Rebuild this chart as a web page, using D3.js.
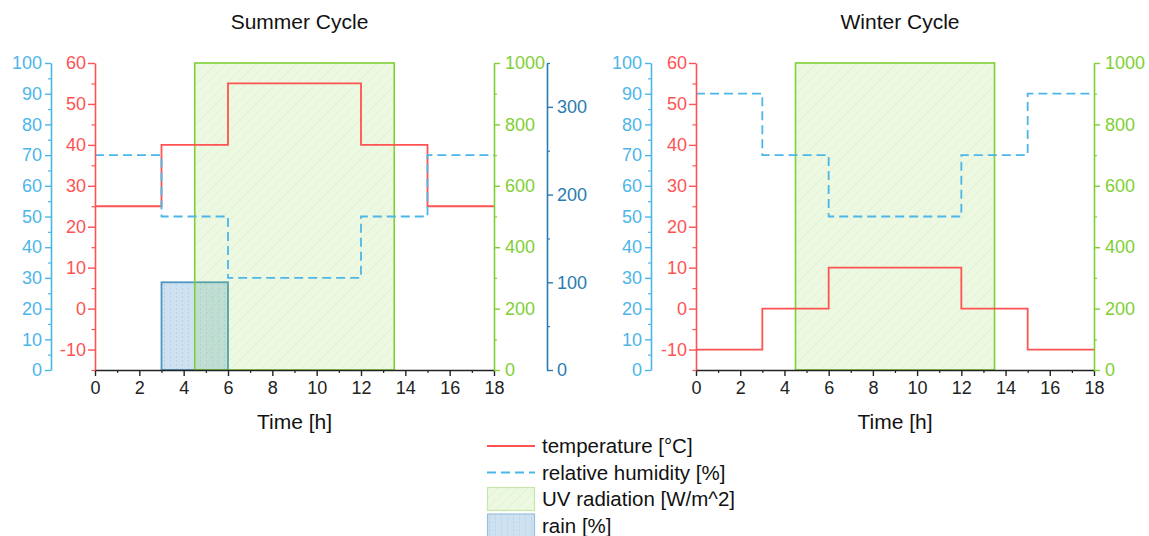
<!DOCTYPE html>
<html>
<head>
<meta charset="utf-8">
<script src="https://cdn.jsdelivr.net/npm/d3@7"></script>
<style>
  html, body { margin: 0; padding: 0; background: #fff; }
  svg { display: block; font-family: "Liberation Sans", Arial, sans-serif; }
</style>
</head>
<body>
<svg id="chart" width="1149" height="536"></svg>
<script>
// ---- data ----
const hourBreaks = [0, 3, 6, 12, 15, 18];
const summerTemperature = [25, 40, 55, 40, 25];
const summerHumidity = [70, 50, 30, 50, 70];
const winterTemperature = [-10, 0, 10, 0, -10];
const winterHumidity = [90, 70, 50, 70, 90];
const uvPeriod = [4.5, 13.5];
const uvIntensity = 1000;
const summerRainPeriod = [3, 6];
const summerRain = 100;

const timeTicks = [0, 2, 4, 6, 8, 10, 12, 14, 16, 18];
const temperatureTicks = [-10, 0, 10, 20, 30, 40, 50, 60];
const humidityTicks = [0, 10, 20, 30, 40, 50, 60, 70, 80, 90, 100];
const uvTicks = [0, 200, 400, 600, 800, 1000];
const rainTicks = [0, 100, 200, 300];
const legendLabels = ["temperature [°C]", "relative humidity [%]", "UV radiation [W/m^2]", "rain [%]"];

// ---- style ----
const C = {
  temp: "#ff5252",
  hum: "#4cb6e9",
  uv: "#7fd034",
  rain: "#2a7bb1",
  rainFill: "#cde1f1",
  rainStroke: "#5096c2",
  axis: "#222"
};
const TOP = 63, BOTTOM = 370;
const plain = d => String(d).replace("\u2212", "-");

const svg = d3.select("#chart");
const defs = svg.append("defs");

// diagonal hatch for the UV window
const hatch = defs.append("pattern")
  .attr("id", "uvHatch").attr("patternUnits", "userSpaceOnUse")
  .attr("width", 10).attr("height", 10);
hatch.append("rect").attr("width", 10).attr("height", 10).attr("fill", C.uv).attr("fill-opacity", 0.15);
hatch.append("path").attr("d", "M-1,11 L11,-1 M-1,1 L1,-1 M9,11 L11,9")
  .attr("stroke", C.uv).attr("stroke-opacity", 0.16).attr("stroke-width", 0.8);

// dotted fill for the rain bar
const dots = defs.append("pattern")
  .attr("id", "rainDots").attr("patternUnits", "userSpaceOnUse")
  .attr("width", 6).attr("height", 4);
dots.append("rect").attr("width", 6).attr("height", 4).attr("fill", C.rainFill);
dots.append("rect").attr("x", 2).attr("y", 0).attr("width", 1).attr("height", 2)
  .attr("fill", "#8fb9d9").attr("fill-opacity", 0.35);

function stepPoints(values) {
  const pts = values.map((v, i) => [hourBreaks[i], v]);
  pts.push([hourBreaks[hourBreaks.length - 1], values[values.length - 1]]);
  return pts;
}

function range(a, b, s) { return d3.range(a, b + s / 2, s); }

function styleAxis(g, color, fontSize) {
  g.select(".domain").attr("stroke", color).attr("stroke-width", 1.6);
  g.selectAll(".tick line").attr("stroke", color).attr("stroke-width", 1.4);
  g.selectAll(".tick text").attr("fill", color).style("font-size", fontSize + "px")
    .style("font-family", "'Liberation Sans', Arial, sans-serif");
}

function minorAxis(gen, scale, values, size, color, x, y) {
  const g = svg.append("g").attr("transform", `translate(${x},${y})`)
    .call(gen(scale).tickValues(values).tickSize(size).tickFormat(""));
  g.select(".domain").remove();
  g.selectAll(".tick line").attr("stroke", color).attr("stroke-width", 1.2);
}

function drawPanel(p) {
  const x = d3.scaleLinear([0, 18], [p.x0, p.x1]);
  const yT = d3.scaleLinear([-15, 60], [BOTTOM, TOP]);
  const yH = d3.scaleLinear([0, 100], [BOTTOM, TOP]);
  const yUV = d3.scaleLinear([0, 1000], [BOTTOM, TOP]);

  // rain bar
  if (p.rain) {
    const yR = d3.scaleLinear([0, 350], [BOTTOM, TOP]);
    svg.append("rect")
      .attr("x", x(p.rain.period[0])).attr("y", yR(p.rain.value))
      .attr("width", x(p.rain.period[1]) - x(p.rain.period[0]))
      .attr("height", yR(0) - yR(p.rain.value))
      .attr("fill", "url(#rainDots)").attr("stroke", C.rainStroke).attr("stroke-width", 1.8);

    const gR = svg.append("g").attr("transform", `translate(${p.rainX},0)`)
      .call(d3.axisRight(yR).tickValues(rainTicks).tickFormat(plain)
        .tickSize(6).tickPadding(4).tickSizeOuter(0));
    styleAxis(gR, C.rain, 18);
    minorAxis(d3.axisRight, yR, [50, 150, 250, 350], 3, C.rain, p.rainX, 0);
  }

  // UV window
  svg.append("rect")
    .attr("x", x(uvPeriod[0])).attr("y", yUV(uvIntensity))
    .attr("width", x(uvPeriod[1]) - x(uvPeriod[0]))
    .attr("height", yUV(0) - yUV(uvIntensity))
    .attr("fill", "url(#uvHatch)").attr("stroke", C.uv).attr("stroke-width", 1.6);

  // temperature
  svg.append("path")
    .datum(stepPoints(p.temp))
    .attr("d", d3.line().x(d => x(d[0])).y(d => yT(d[1])).curve(d3.curveStepAfter))
    .attr("fill", "none").attr("stroke", C.temp).attr("stroke-width", 1.8);

  // relative humidity
  svg.append("path")
    .datum(stepPoints(p.hum))
    .attr("d", d3.line().x(d => x(d[0])).y(d => yH(d[1])).curve(d3.curveStepAfter))
    .attr("fill", "none").attr("stroke", C.hum).attr("stroke-width", 1.8)
    .attr("stroke-dasharray", "9,5");

  // time axis
  const gX = svg.append("g").attr("transform", `translate(0,${BOTTOM})`)
    .call(d3.axisBottom(x).tickValues(timeTicks).tickFormat(plain)
      .tickSize(6).tickPadding(5).tickSizeOuter(0));
  styleAxis(gX, C.axis, 18);
  minorAxis(d3.axisBottom, x, range(1, 17, 2), 3, C.axis, 0, BOTTOM);

  // temperature axis
  const gT = svg.append("g").attr("transform", `translate(${p.x0},0)`)
    .call(d3.axisLeft(yT).tickValues(temperatureTicks).tickFormat(plain)
      .tickSize(7).tickPadding(2).tickSizeOuter(0));
  styleAxis(gT, C.temp, 18);
  minorAxis(d3.axisLeft, yT, range(-15, 55, 10), 3.5, C.temp, p.x0, 0);

  // humidity axis
  const gH = svg.append("g").attr("transform", `translate(${p.humX},0)`)
    .call(d3.axisLeft(yH).tickValues(humidityTicks).tickFormat(plain)
      .tickSize(6).tickPadding(3).tickSizeOuter(0));
  styleAxis(gH, C.hum, 18);
  minorAxis(d3.axisLeft, yH, range(5, 95, 10), 3, C.hum, p.humX, 0);

  // UV axis
  const gU = svg.append("g").attr("transform", `translate(${p.x1},0)`)
    .call(d3.axisRight(yUV).tickValues(uvTicks).tickFormat(plain)
      .tickSize(6).tickPadding(5).tickSizeOuter(0));
  styleAxis(gU, C.uv, 18);
  minorAxis(d3.axisRight, yUV, range(100, 900, 200), 3, C.uv, p.x1, 0);

  // titles
  svg.append("text").attr("x", (p.x0 + p.x1) / 2 + 5).attr("y", 29)
    .attr("text-anchor", "middle").attr("fill", "#111").style("font-size", "21px").text(p.title);
  svg.append("text").attr("x", (p.x0 + p.x1) / 2).attr("y", 429)
    .attr("text-anchor", "middle").attr("fill", "#111").style("font-size", "21px").text("Time [h]");
}

drawPanel({
  title: "Summer Cycle", x0: 95, x1: 494, humX: 51, rainX: 547,
  temp: summerTemperature, hum: summerHumidity,
  rain: { period: summerRainPeriod, value: summerRain }
});
drawPanel({
  title: "Winter Cycle", x0: 696, x1: 1094, humX: 651,
  temp: winterTemperature, hum: winterHumidity
});

// ---- legend ----
const legend = svg.append("g").attr("transform", "translate(487,446)");
const rowH = 26.5;
legendLabels.forEach((label, i) => {
  const g = legend.append("g").attr("transform", `translate(0,${i * rowH})`);
  if (i === 0) {
    g.append("line").attr("x1", 0).attr("x2", 48).attr("stroke", C.temp).attr("stroke-width", 1.8);
  } else if (i === 1) {
    g.append("line").attr("x1", 0).attr("x2", 48).attr("stroke", C.hum).attr("stroke-width", 1.8)
      .attr("stroke-dasharray", "9,5");
  } else if (i === 2) {
    g.append("rect").attr("x", 0.5).attr("y", -11.5).attr("width", 47).attr("height", 23)
      .attr("fill", "url(#uvHatch)").attr("stroke", "#c8e6aa").attr("stroke-width", 1.2);
  } else {
    g.append("rect").attr("x", 0.5).attr("y", -11.5).attr("width", 47).attr("height", 23)
      .attr("fill", "url(#rainDots)").attr("stroke", "#9dc0db").attr("stroke-width", 1.2);
  }
  g.append("text").attr("x", 55).attr("y", 7).attr("fill", "#111")
    .style("font-size", "20.5px").text(label);
});
</script>
</body>
</html>
